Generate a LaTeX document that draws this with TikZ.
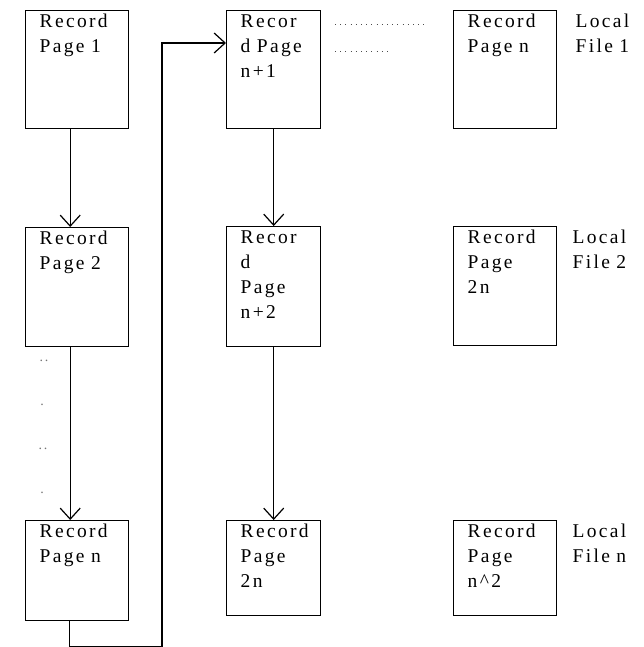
\documentclass[tikz,border=0pt]{standalone}
\usepackage{fontspec}
\setmainfont{Liberation Serif}[LetterSpace=12]
\usetikzlibrary{positioning}
\usetikzlibrary{arrows.meta}

\begin{document}
\begin{tikzpicture}
  [x = 1pt, y = -1pt,
   page/.style = {draw, line width = 1.4pt, anchor = north west, align = left,
     inner xsep = 14pt, inner ysep = 3pt, text height = 14pt,
     font = \fontsize{19.5}{25}\selectfont},
   wide/.style = {text width = 75pt},
   narrow/.style = {text width = 66pt},
   filelabel/.style = {align = left, text width = 62pt, inner xsep = 0pt, inner ysep = 3pt,
     text height = 14pt, font = \fontsize{19.5}{25}\selectfont},
   link/.style = {line width = 1.2pt, -{Straight Barb[length = 11pt, width = 20pt]}},
   gap/.style = {text = black!55, inner sep = 0pt, font = \fontsize{14}{14}\selectfont},
   leader/.style = {line width = 1pt, black!70, dash pattern = on 1pt off 4.2pt}]
  \useasboundingbox (0, 0) rectangle (643, 647);

  \node [page, wide, text depth = 98pt] (a1) at (25, 10) {Record\\Page 1};
  \node [page, wide, text depth = 99pt] (a2) at (25, 227) {Record\\Page 2};
  \node [page, wide, text depth = 80pt] (an) at (25, 520) {Record\\Page n};

  \node [page, narrow, text depth = 98pt] (b1) at (226, 10) {Recor\\d Page\\n+1};
  \node [page, narrow, text depth = 100pt] (b2) at (226, 226) {Recor\\d\\Page\\n+2};
  \node [page, narrow, text depth = 75pt] (b3) at (226, 520) {Record\\Page\\2n};

  \node [page, wide, text depth = 98pt] (c1) at (453, 10) {Record\\Page n};
  \node [page, wide, text depth = 99pt] (c2) at (453, 226) {Record\\Page\\2n};
  \node [page, wide, text depth = 75pt] (cn) at (453, 520) {Record\\Page\\n\^{}2};

  \node [filelabel, below right = 0pt and 18pt of c1.north east] (lf1) {Local\\File 1};
  \node [filelabel, below right = 0pt and 15pt of c2.north east] (lf2) {Local\\File 2};
  \node [filelabel, below right = 0pt and 15pt of cn.north east] (lfn) {Local\\File n};

  \node [gap] (gap1) at (44, 361) {..};
  \node [gap] (gap2) at (42, 405) {.};
  \node [gap] (gap3) at (43, 449) {..};
  \node [gap] (gap4) at (42, 493) {.};

  \draw [leader] (335, 25) -- (428, 25);
  \draw [leader] (335, 52) -- (388, 52);

  \draw [link] ([xshift = -7pt] a1.south) -- ([xshift = -7pt] a2.north);
  \draw [link] ([xshift = -7pt] a2.south) -- ([xshift = -7pt] an.north);
  \draw [link] (b1) -- (b2);
  \draw [link] (b2) -- (b3);

  \coordinate (entry) at ([yshift = -33pt] b1.north west);
  \draw [link] ([xshift = -8pt] an.south) -- ++(0, 25) -| ([xshift = -64pt] entry) -- (entry);
\end{tikzpicture}
\end{document}
